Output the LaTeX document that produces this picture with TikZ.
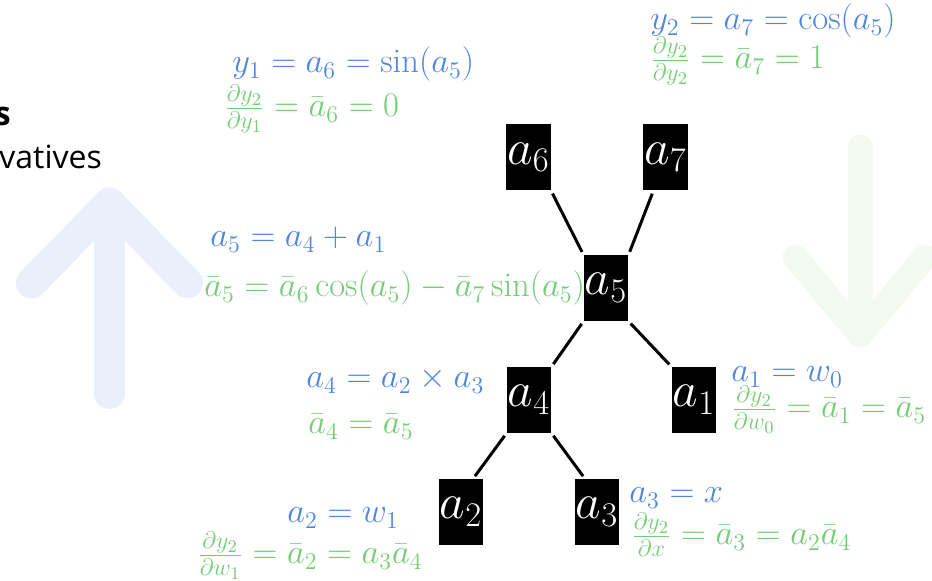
\documentclass[tikz,border=0pt]{standalone}
\usepackage{xcolor}
\usepackage{amsmath}
\usepackage{fontspec}
\usepackage{tikz}
\usetikzlibrary{arrows.meta,positioning,calc}
\newfontfamily\notefont{Open Sans}
\definecolor{fwdblue}{HTML}{4F86E0}
\definecolor{bwdgreen}{HTML}{74CC74}
\definecolor{paleblue}{HTML}{EAF0FB}
\definecolor{palegreen}{HTML}{F2FAF0}

\begin{document}
\begin{tikzpicture}[
  x=0.5pt, y=-0.5pt,
  font=\fontsize{17.3}{21}\selectfont,
  op/.style={fill=black,text=white,minimum width=22pt,minimum height=33pt,inner sep=0.5pt,font=\fontsize{23}{28}\selectfont},
  fwd/.style={text=fwdblue,anchor=base west,inner sep=0pt},
  bwd/.style={text=bwdgreen,anchor=base west,inner sep=0pt},
  note/.style={anchor=base west,inner sep=0pt},
  link/.style={line width=1.5pt,shorten <=1.5pt,shorten >=1.5pt},
  bigarr/.style={line cap=round,line join=round}
]
\useasboundingbox (0,0) rectangle (932,581);
% background arrows
\draw[bigarr,paleblue,line width=15.5pt] (109.5,393.5) -- (109.5,203);
\draw[bigarr,paleblue,line width=15.5pt] (31.5,283) -- (109.5,203) -- (187.5,283);
\draw[bigarr,palegreen,line width=12.5pt] (860,147) -- (860,335);
\draw[bigarr,palegreen,line width=12.5pt] (795,257) -- (860,335) -- (925,257);
% cut-off heading
\node[note,font={\notefont\bfseries\fontsize{16.5}{20}\selectfont}] (head) at (-6,126) {s};
\node[note,font={\notefont\fontsize{16}{19}\selectfont}] (subhead) at (-1,169) {vatives};
% graph
\node[op] (a6) at (528.5,157.5) {$a_6$};
\node[op] (a7) at (665.5,157.5) {$a_7$};
\node[op] (a5) at (606,288) {$a_5$};
\node[op] (a4) at (529,400) {$a_4$};
\node[op] (a1) at (694,400) {$a_1$};
\node[op] (a2) at (461,512) {$a_2$};
\node[op] (a3) at (597,512) {$a_3$};
\draw[link] (a6.south east) -- (a5.north west);
\draw[link] (a7.250) -- (a5.north east);
\draw[link] (a5.south west) -- (a4.north east);
\draw[link] (a5.south east) -- (a1.north west);
\draw[link] (a4.south west) -- (a2.70);
\draw[link] (a4.south east) -- (a3.110);
% forward values and adjoints
\node[fwd] (f6) at (232,73) {$y_1 = a_6 = \sin(a_5)$};
\node[bwd] (b6) at (224,117) {$\frac{\partial y_2}{\partial y_1} = \bar{a}_6 = 0$};
\node[fwd] (f7) at (650,30) {$y_2 = a_7 = \cos(a_5)$};
\node[bwd] (b7) at (650,69) {$\frac{\partial y_2}{\partial y_2} = \bar{a}_7 = 1$};
\node[fwd] (f5) at (210,247) {$a_5 = a_4 + a_1$};
\node[bwd] (b5) at (204,297) {$\bar{a}_5 = \bar{a}_6\cos(a_5) - \bar{a}_7\sin(a_5)$};
\node[fwd] (f4) at (306,388) {$a_4 = a_2 \times a_3$};
\node[bwd] (b4) at (308,434) {$\bar{a}_4 = \bar{a}_5$};
\node[fwd] (f1) at (731,382) {$a_1 = w_0$};
\node[bwd] (b1) at (731,418) {$\frac{\partial y_2}{\partial w_0} = \bar{a}_1 = \bar{a}_5$};
\node[fwd] (f2) at (287,523) {$a_2 = w_1$};
\node[bwd] (b2) at (197,564) {$\frac{\partial y_2}{\partial w_1} = \bar{a}_2 = a_3\bar{a}_4$};
\node[fwd] (f3) at (629,503) {$a_3 = x$};
\node[bwd] (b3) at (631,545) {$\frac{\partial y_2}{\partial x} = \bar{a}_3 = a_2\bar{a}_4$};
\end{tikzpicture}
\end{document}
